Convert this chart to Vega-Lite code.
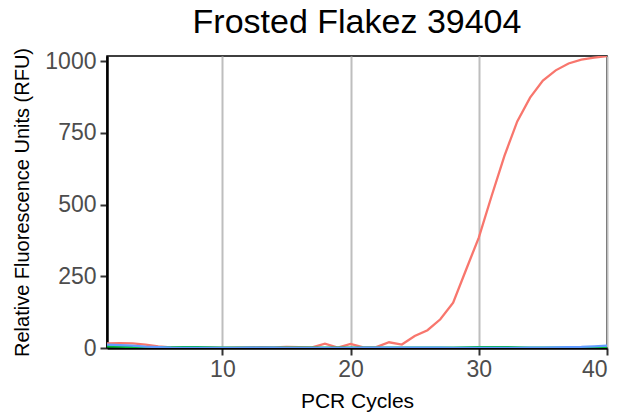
{
  "$schema": "https://vega.github.io/schema/vega-lite/v6.json",
  "width": 500,
  "height": 292,
  "autosize": "none",
  "padding": {"left": 107, "top": 56, "right": 25, "bottom": 68},
  "background": "white",
  "title": {"text": "Frosted Flakez 39404", "fontSize": 34, "font": "Liberation Sans", "fontWeight": "normal", "color": "black", "anchor": "middle", "offset": 8},
  "config": {
    "view": {"stroke": "black", "strokeWidth": 1.5},
    "font": "Liberation Sans"
  },
  "data": {"values": [
    {"cycle":1,"series":"A","rfu":16},{"cycle":2,"series":"A","rfu":17},{"cycle":3,"series":"A","rfu":16},{"cycle":4,"series":"A","rfu":12},{"cycle":5,"series":"A","rfu":6},{"cycle":6,"series":"A","rfu":2},{"cycle":7,"series":"A","rfu":1},{"cycle":8,"series":"A","rfu":0},{"cycle":9,"series":"A","rfu":1},{"cycle":10,"series":"A","rfu":0},{"cycle":11,"series":"A","rfu":1},{"cycle":12,"series":"A","rfu":2},{"cycle":13,"series":"A","rfu":3},{"cycle":14,"series":"A","rfu":2},{"cycle":15,"series":"A","rfu":4},{"cycle":16,"series":"A","rfu":3},{"cycle":17,"series":"A","rfu":2},{"cycle":18,"series":"A","rfu":15},{"cycle":19,"series":"A","rfu":1},{"cycle":20,"series":"A","rfu":14},{"cycle":21,"series":"A","rfu":2},{"cycle":22,"series":"A","rfu":3},{"cycle":23,"series":"A","rfu":20},{"cycle":24,"series":"A","rfu":12},{"cycle":25,"series":"A","rfu":42},{"cycle":26,"series":"A","rfu":62},{"cycle":27,"series":"A","rfu":100},{"cycle":28,"series":"A","rfu":158},{"cycle":29,"series":"A","rfu":272},{"cycle":30,"series":"A","rfu":385},{"cycle":31,"series":"A","rfu":530},{"cycle":32,"series":"A","rfu":670},{"cycle":33,"series":"A","rfu":790},{"cycle":34,"series":"A","rfu":873},{"cycle":35,"series":"A","rfu":932},{"cycle":36,"series":"A","rfu":968},{"cycle":37,"series":"A","rfu":992},{"cycle":38,"series":"A","rfu":1005},{"cycle":39,"series":"A","rfu":1012},{"cycle":40,"series":"A","rfu":1018},
    {"cycle":1,"series":"B","rfu":6},{"cycle":2,"series":"B","rfu":5},{"cycle":3,"series":"B","rfu":3},{"cycle":4,"series":"B","rfu":2},{"cycle":5,"series":"B","rfu":2},{"cycle":6,"series":"B","rfu":2},{"cycle":7,"series":"B","rfu":3},{"cycle":8,"series":"B","rfu":3},{"cycle":9,"series":"B","rfu":2},{"cycle":10,"series":"B","rfu":1},{"cycle":11,"series":"B","rfu":1},{"cycle":12,"series":"B","rfu":1},{"cycle":13,"series":"B","rfu":1},{"cycle":14,"series":"B","rfu":1},{"cycle":15,"series":"B","rfu":1},{"cycle":16,"series":"B","rfu":1},{"cycle":17,"series":"B","rfu":1},{"cycle":18,"series":"B","rfu":1},{"cycle":19,"series":"B","rfu":1},{"cycle":20,"series":"B","rfu":1},{"cycle":21,"series":"B","rfu":1},{"cycle":22,"series":"B","rfu":1},{"cycle":23,"series":"B","rfu":1},{"cycle":24,"series":"B","rfu":1},{"cycle":25,"series":"B","rfu":1},{"cycle":26,"series":"B","rfu":1},{"cycle":27,"series":"B","rfu":1},{"cycle":28,"series":"B","rfu":1},{"cycle":29,"series":"B","rfu":2},{"cycle":30,"series":"B","rfu":3},{"cycle":31,"series":"B","rfu":3},{"cycle":32,"series":"B","rfu":3},{"cycle":33,"series":"B","rfu":2},{"cycle":34,"series":"B","rfu":1},{"cycle":35,"series":"B","rfu":1},{"cycle":36,"series":"B","rfu":1},{"cycle":37,"series":"B","rfu":1},{"cycle":38,"series":"B","rfu":1},{"cycle":39,"series":"B","rfu":1},{"cycle":40,"series":"B","rfu":1},
    {"cycle":1,"series":"C","rfu":12},{"cycle":2,"series":"C","rfu":10},{"cycle":3,"series":"C","rfu":8},{"cycle":4,"series":"C","rfu":5},{"cycle":5,"series":"C","rfu":3},{"cycle":6,"series":"C","rfu":1},{"cycle":7,"series":"C","rfu":0},{"cycle":8,"series":"C","rfu":0},{"cycle":9,"series":"C","rfu":0},{"cycle":10,"series":"C","rfu":0},{"cycle":11,"series":"C","rfu":0},{"cycle":12,"series":"C","rfu":1},{"cycle":13,"series":"C","rfu":1},{"cycle":14,"series":"C","rfu":1},{"cycle":15,"series":"C","rfu":0},{"cycle":16,"series":"C","rfu":0},{"cycle":17,"series":"C","rfu":0},{"cycle":18,"series":"C","rfu":0},{"cycle":19,"series":"C","rfu":0},{"cycle":20,"series":"C","rfu":0},{"cycle":21,"series":"C","rfu":1},{"cycle":22,"series":"C","rfu":1},{"cycle":23,"series":"C","rfu":1},{"cycle":24,"series":"C","rfu":1},{"cycle":25,"series":"C","rfu":1},{"cycle":26,"series":"C","rfu":1},{"cycle":27,"series":"C","rfu":1},{"cycle":28,"series":"C","rfu":0},{"cycle":29,"series":"C","rfu":0},{"cycle":30,"series":"C","rfu":0},{"cycle":31,"series":"C","rfu":0},{"cycle":32,"series":"C","rfu":0},{"cycle":33,"series":"C","rfu":0},{"cycle":34,"series":"C","rfu":1},{"cycle":35,"series":"C","rfu":1},{"cycle":36,"series":"C","rfu":2},{"cycle":37,"series":"C","rfu":3},{"cycle":38,"series":"C","rfu":4},{"cycle":39,"series":"C","rfu":6},{"cycle":40,"series":"C","rfu":8}
  ]},
  "mark": {"type": "line", "strokeWidth": 2.3, "clip": true},
  "encoding": {
    "x": {
      "field": "cycle", "type": "quantitative",
      "scale": {"domain": [1, 40], "nice": false, "zero": false},
      "axis": {
        "title": "PCR Cycles", "titleFontSize": 21, "titleFontWeight": "normal", "titleColor": "black", "titleFont": "Liberation Sans", "titlePadding": 9,
        "values": [10, 20, 30, 40], "format": "d", "labelFontSize": 23, "labelColor": "#4D4D4D", "labelFont": "Liberation Sans", "labelPadding": 3,
        "grid": true, "gridColor": "#BEBEBE", "gridWidth": 2,
        "domainColor": "black", "domainWidth": 2.5,
        "tickColor": "#333333", "tickWidth": 2, "tickSize": 7
      }
    },
    "y": {
      "field": "rfu", "type": "quantitative",
      "scale": {"domain": [0, 1018], "nice": false},
      "axis": {
        "title": "Relative Fluorescence Units (RFU)", "titleFontSize": 20, "titleFontWeight": "normal", "titleColor": "black", "titleFont": "Liberation Sans", "titlePadding": 12,
        "values": [0, 250, 500, 750, 1000], "format": "d", "labelFontSize": 23, "labelColor": "#4D4D4D", "labelFont": "Liberation Sans", "labelPadding": 4,
        "grid": false,
        "domainColor": "black", "domainWidth": 2.5,
        "tickColor": "#333333", "tickWidth": 2, "tickSize": 7
      }
    },
    "color": {
      "field": "series", "type": "nominal",
      "scale": {"domain": ["A", "B", "C"], "range": ["#F8766D", "#00BA38", "#619CFF"]},
      "legend": null
    }
  }
}
